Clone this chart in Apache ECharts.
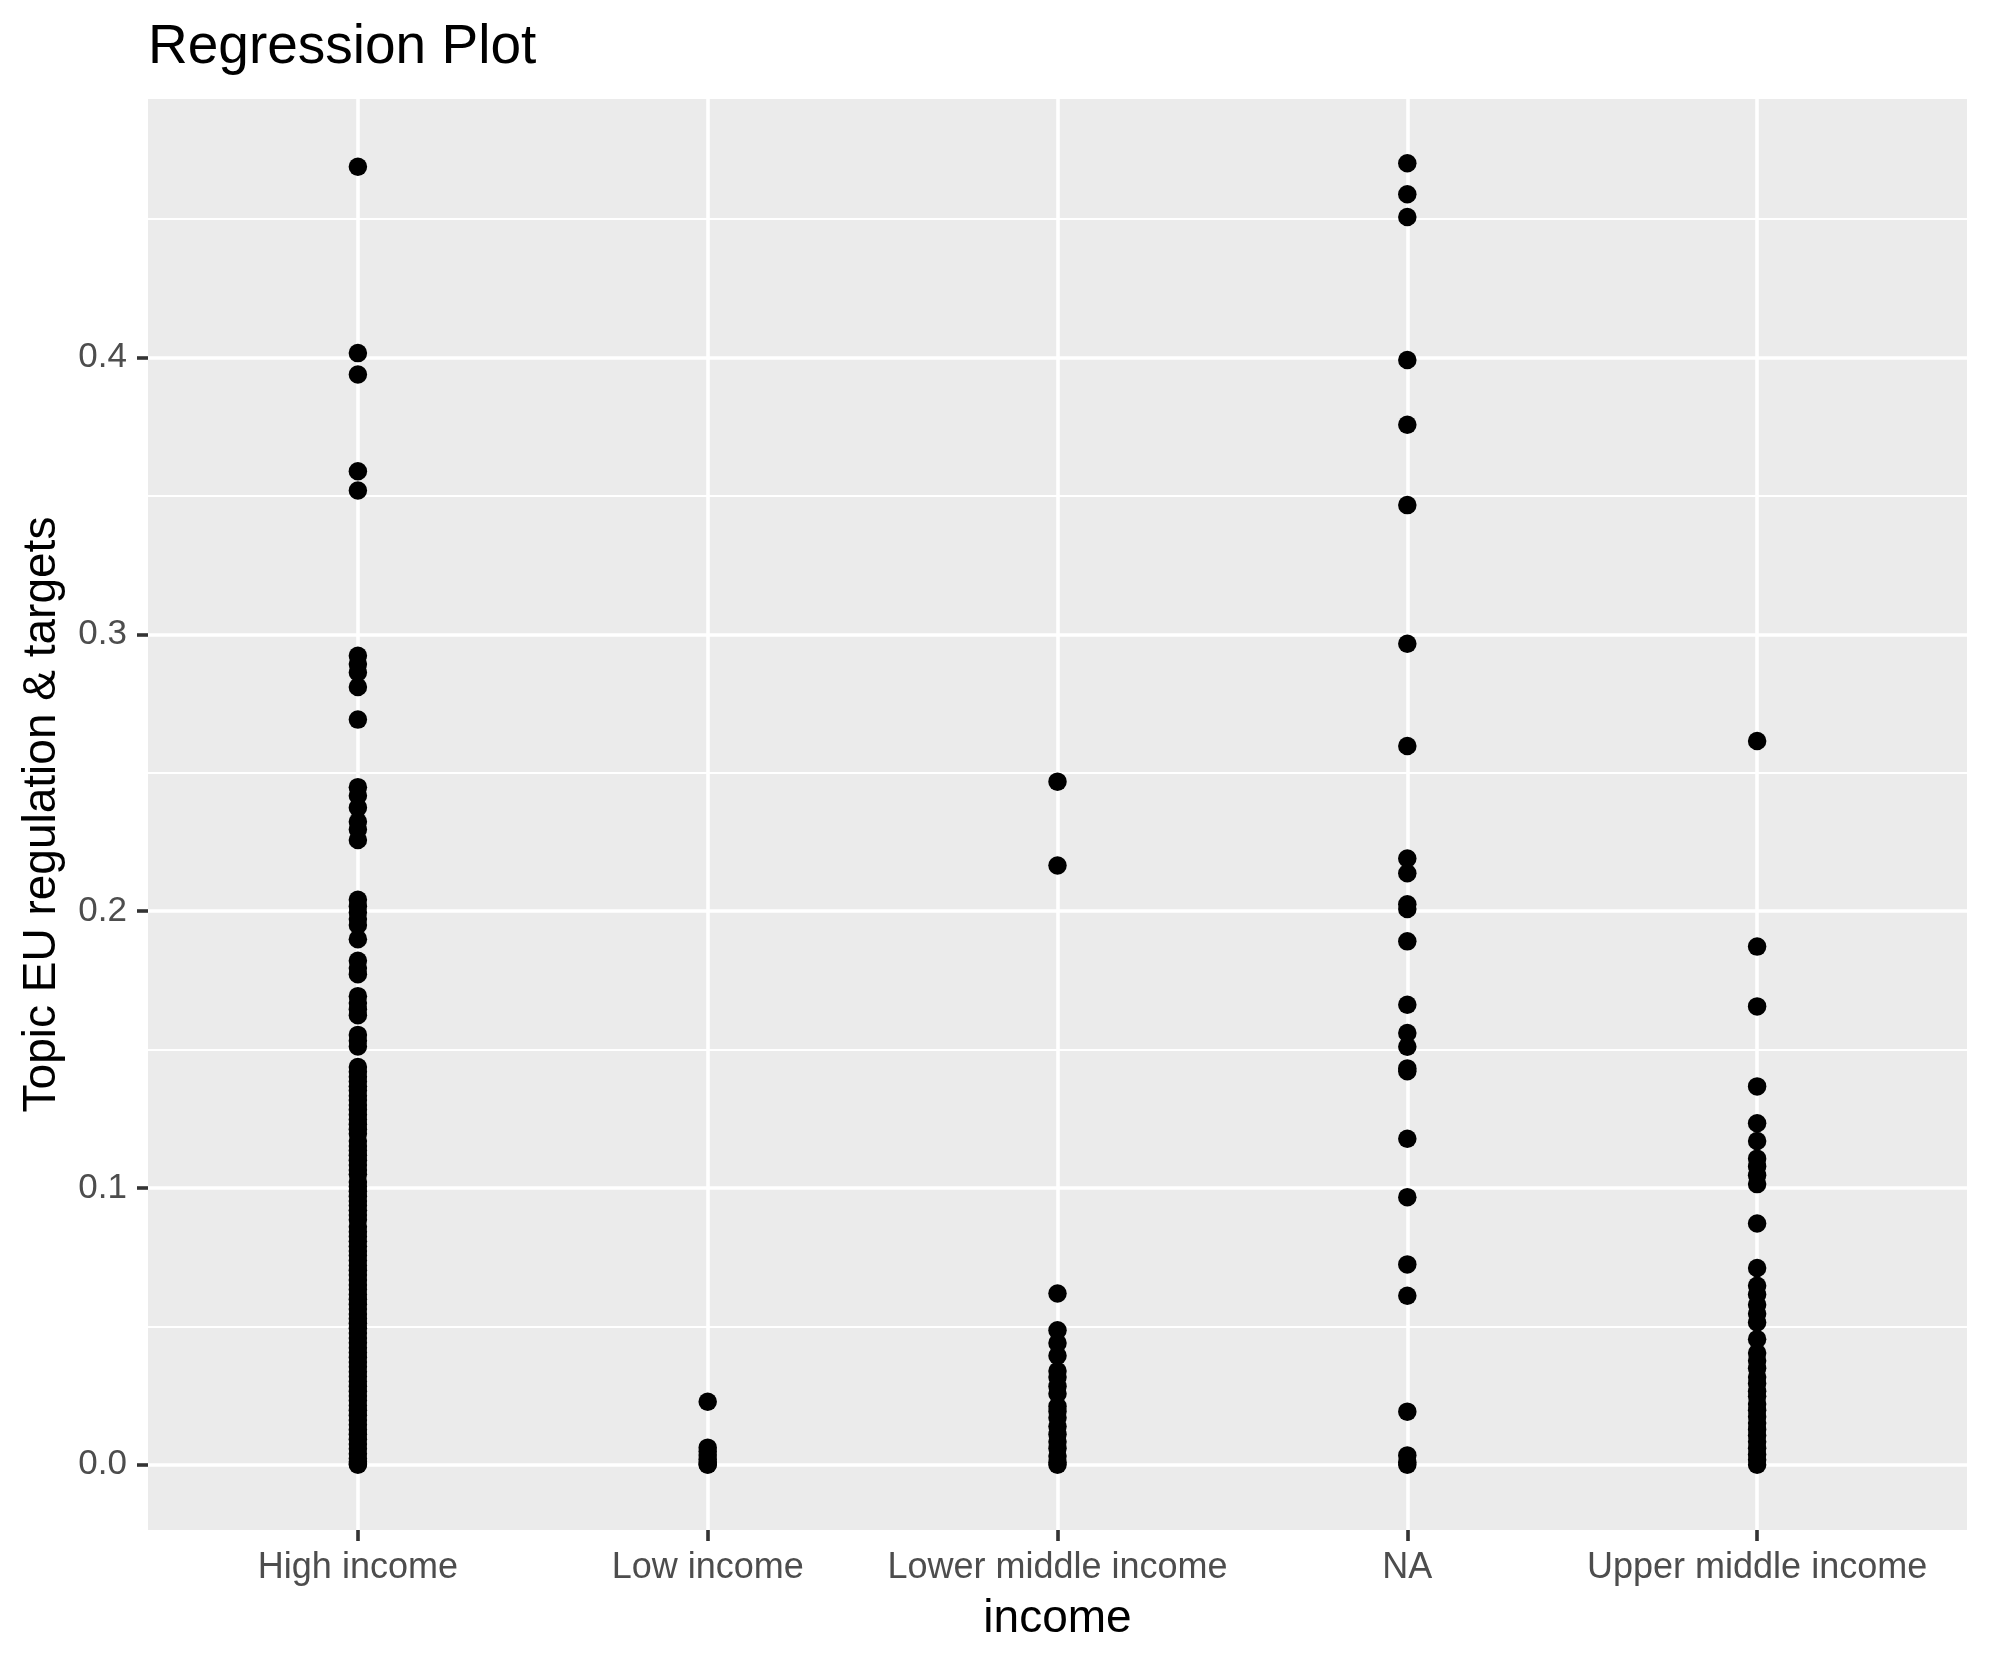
<!DOCTYPE html>
<html>
<head>
<meta charset="utf-8">
<script src="https://cdn.jsdelivr.net/npm/echarts@6/dist/echarts.min.js"></script>
<style>
html,body{margin:0;padding:0;background:#fff;}
#chart{width:1990px;height:1665px;}
</style>
</head>
<body>
<div id="chart"></div>
<script>
const categories = ['High income', 'Low income', 'Lower middle income', 'NA', 'Upper middle income'];

const highIncome = [0.4689, 0.4016, 0.3939, 0.3589, 0.352, 0.2923, 0.2893, 0.2862, 0.281, 0.2692,
  0.2448, 0.2417, 0.2374, 0.2323, 0.2295, 0.2257, 0.2041, 0.2018, 0.1995, 0.1972, 0.195, 0.1899,
  0.1821, 0.1795, 0.1772, 0.1693, 0.1668, 0.1646, 0.1624, 0.1553, 0.1532, 0.1511,
  0.1437, 0.142, 0.1402, 0.1385, 0.1368, 0.1352, 0.1333, 0.1318, 0.13, 0.1283, 0.1265, 0.1247,
  0.123, 0.1212, 0.1196, 0.117, 0.1152, 0.1135, 0.1118, 0.11, 0.1083, 0.1065, 0.105, 0.1022,
  0.1005, 0.0988, 0.097, 0.0953, 0.0937, 0.092, 0.0902, 0.0885, 0.086, 0.0842, 0.0825, 0.0808,
  0.079, 0.0772, 0.0756, 0.0738, 0.072, 0.0703, 0.0686, 0.0668, 0.065, 0.0633, 0.0615, 0.0598,
  0.058, 0.0563, 0.0545, 0.0528, 0.0511, 0.0493, 0.0476, 0.0458, 0.0441, 0.0423, 0.0406, 0.0388,
  0.0371, 0.0354, 0.0336, 0.0319, 0.0301, 0.0284, 0.0266, 0.0249, 0.0232, 0.0214, 0.0197, 0.0179,
  0.0162, 0.0145, 0.0127, 0.011, 0.0092, 0.0075, 0.0058, 0.004, 0.0023, 0.0011, 0.0004, 0.0];
const lowIncome = [0.0228, 0.0062, 0.0048, 0.0035, 0.002, 0.001, 0.0003, 0.0];
const lowerMiddle = [0.2468, 0.2165, 0.0619, 0.0486, 0.044, 0.0394, 0.0339, 0.0317, 0.0284, 0.0257,
  0.0211, 0.0193, 0.017, 0.0138, 0.011, 0.0083, 0.006, 0.0032, 0.0009, 0.0];
const naIncome = [0.4702, 0.4590, 0.4508, 0.3991, 0.3757, 0.3467, 0.2966, 0.2597, 0.2190, 0.2137,
  0.2025, 0.2008, 0.1891, 0.1662, 0.1560, 0.1510, 0.1432, 0.1422, 0.1178, 0.0967, 0.0724, 0.0611,
  0.0192, 0.0034, 0.0009, 0.0];
const upperMiddle = [0.2615, 0.1872, 0.1656, 0.1367, 0.1234, 0.117, 0.1106, 0.1078, 0.1046, 0.1014,
  0.0872, 0.0711, 0.0647, 0.0615, 0.0578, 0.0546, 0.0514, 0.0454, 0.0404, 0.0376, 0.0349, 0.0317,
  0.0294, 0.0266, 0.0248, 0.022, 0.0197, 0.0174, 0.0151, 0.0128, 0.0106, 0.0083, 0.006, 0.0037,
  0.0018, 0.0];

const yTicks = [0, 0.1, 0.2, 0.3, 0.4];
const yMinorTicks = [0.05, 0.15, 0.25, 0.35, 0.45];
const xTicks = [1, 2, 3, 4, 5];

const groups = [highIncome, lowIncome, lowerMiddle, naIncome, upperMiddle];
const points = [];
groups.forEach((vals, i) => vals.forEach(v => points.push([i + 1, v])));

const FONT = '"Liberation Sans", Arial, Helvetica, sans-serif';
const chart = echarts.init(document.getElementById('chart'), null, {renderer: 'canvas'});
chart.setOption({
  animation: false,
  backgroundColor: '#ffffff',
  title: {
    text: 'Regression Plot',
    left: 148, top: 20,
    padding: 0,
    textStyle: {fontFamily: FONT, fontSize: 55, fontWeight: 'normal', color: '#000000'}
  },
  grid: {
    left: 148, right: 23, top: 99, bottom: 135,
    show: true, backgroundColor: '#EBEBEB', borderWidth: 0,
    containLabel: false
  },
  xAxis: {
    type: 'value',
    min: 0.4, max: 5.6,
    name: 'income',
    nameLocation: 'middle',
    nameGap: 66,
    nameTextStyle: {fontFamily: FONT, fontSize: 46, color: '#000000'},
    axisLine: {show: false, onZero: false},
    axisTick: {show: true, length: 11, inside: false, customValues: xTicks,
      lineStyle: {color: '#333333', width: 3.6}},
    axisLabel: {show: true, customValues: xTicks, margin: 20,
      formatter: v => categories[Math.round(v) - 1],
      fontFamily: FONT, fontSize: 36, color: '#4D4D4D',
      showMinLabel: true, showMaxLabel: true, hideOverlap: false},
    splitLine: {show: true, lineStyle: {color: '#FFFFFF', width: 3.6}},
    minorSplitLine: {show: false}
  },
  yAxis: [{
    type: 'value',
    min: -0.02355, max: 0.4934,
    name: 'Topic EU regulation & targets',
    nameLocation: 'middle',
    nameGap: 83,
    nameRotate: 90,
    nameTextStyle: {fontFamily: FONT, fontSize: 46, color: '#000000'},
    axisLine: {show: false, onZero: false},
    axisTick: {show: true, length: 11, inside: false, customValues: yTicks,
      lineStyle: {color: '#333333', width: 3.6}},
    axisLabel: {show: true, customValues: yTicks, margin: 21,
      formatter: v => v.toFixed(1),
      fontFamily: FONT, fontSize: 35, color: '#4D4D4D'},
    splitLine: {show: true, lineStyle: {color: '#FFFFFF', width: 3.6}}
  }, {
    type: 'value',
    position: 'left',
    min: -0.02355, max: 0.4934,
    axisLine: {show: false, onZero: false},
    axisTick: {show: false, customValues: yMinorTicks},
    axisLabel: {show: false, customValues: yMinorTicks},
    splitLine: {show: true, lineStyle: {color: '#FFFFFF', width: 1.8}}
  }],
  series: [{
    type: 'scatter',
    xAxisIndex: 0, yAxisIndex: 0,
    data: points,
    symbol: 'circle',
    symbolSize: 18.5,
    itemStyle: {color: '#000000', opacity: 1},
    emphasis: {disabled: true},
    clip: false,
    z: 5
  }]
});
</script>
</body>
</html>
